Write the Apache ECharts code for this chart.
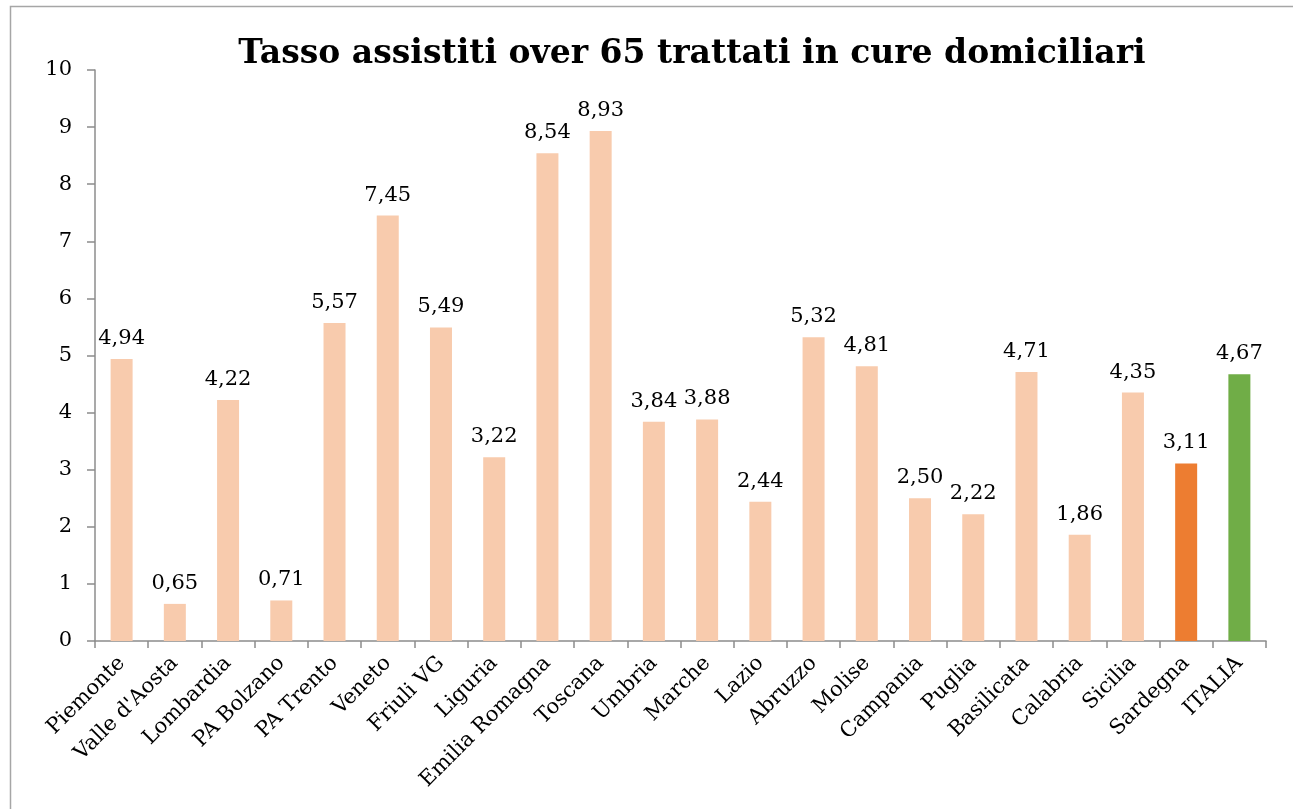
<!DOCTYPE html>
<html><head><meta charset="utf-8">
<script src="https://cdn.jsdelivr.net/npm/echarts@6/dist/echarts.min.js"></script>
<style>html,body{margin:0;padding:0;background:#fff}#c{width:1293px;height:809px}</style>
</head><body><div id="c"></div>
<script>
const categories = ["Piemonte","Valle d'Aosta","Lombardia","PA Bolzano","PA Trento","Veneto","Friuli VG","Liguria","Emilia Romagna","Toscana","Umbria","Marche","Lazio","Abruzzo","Molise","Campania","Puglia","Basilicata","Calabria","Sicilia","Sardegna","ITALIA"];
const values = [4.94,0.65,4.22,0.71,5.57,7.45,5.49,3.22,8.54,8.93,3.84,3.88,2.44,5.32,4.81,2.50,2.22,4.71,1.86,4.35,3.11,4.67];
const highlight = {"Sardegna":"#ED7D31","ITALIA":"#70AD47"};
const baseColor = "#F8CBAD";
const font = "'DejaVu Serif', 'Liberation Serif', serif";

const chart = echarts.init(document.getElementById('c'));
chart.setOption({
  backgroundColor:'#fff',
  animation:false,
  title:{text:'Tasso assistiti over 65 trattati in cure domiciliari',left:687,top:33,textAlign:'center',
    textStyle:{fontFamily:font,fontWeight:'bold',fontSize:33,color:'#000'}},
  graphic:[{type:'rect',shape:{x:10.5,y:6.5,width:1300,height:820},style:{fill:'none',stroke:'#A6A6A6',lineWidth:1.5},z:-1}],
  grid:{left:95,right:27,top:70,bottom:168},
  xAxis:{type:'category',data:categories,
    axisLine:{lineStyle:{color:'#8C8C8C',width:1.5}},
    axisTick:{show:true,length:7,lineStyle:{color:'#8C8C8C',width:1.5}},
    axisLabel:{rotate:45,interval:0,fontFamily:font,fontSize:21,color:'#000',margin:19}},
  yAxis:{type:'value',min:0,max:10,interval:1,
    axisLine:{show:true,lineStyle:{color:'#8C8C8C',width:1.5}},
    axisTick:{show:true,length:8,lineStyle:{color:'#8C8C8C',width:1.5}},
    splitLine:{show:false},
    axisLabel:{fontFamily:font,fontSize:21,color:'#000',margin:23}},
  series:[{type:'bar',barWidth:22,
    data:values.map((v,i)=>({value:v,itemStyle:{color:highlight[categories[i]]||baseColor}})),
    label:{show:true,position:'top',distance:10,fontFamily:font,fontSize:21,color:'#000',
      formatter:p=>p.value.toFixed(2).replace('.',',')}}]
});
</script></body></html>
